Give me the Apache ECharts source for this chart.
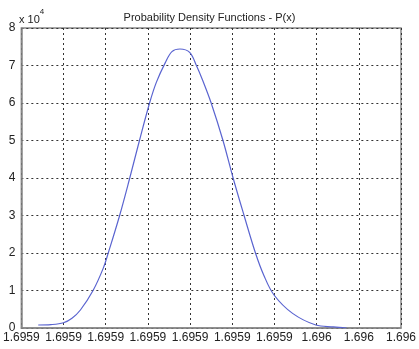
<!DOCTYPE html>
<html>
<head>
<meta charset="utf-8">
<style>
  html, body { margin: 0; padding: 0; background: #fff; }
  #chart { width: 419px; height: 349px; }
</style>
<script src="https://cdn.jsdelivr.net/npm/echarts@6/dist/echarts.min.js"></script>
</head>
<body>
<div id="chart"></div>
<script>
// tick labels on the x axis (values are printed rounded, so they repeat)
var xTickLabels = ['1.6959', '1.6959', '1.6959', '1.6959', '1.6959', '1.6959', '1.6959', '1.696', '1.696', '1.696']
// curve position, in x tick steps from the first tick
var xPos = [0.40, 0.7, 1.0, 1.2, 1.4, 1.7, 1.94, 2.06, 2.33, 2.57, 2.8, 3.04, 3.2, 3.41, 3.57, 3.76, 3.99, 4.15, 4.3, 4.5, 4.78, 5.02, 5.28, 5.55, 5.75, 5.99, 6.43, 6.98, 7.4, 7.71]
// density, in units of 10^4
var density = [0.08, 0.09, 0.14, 0.26, 0.48, 1.0, 1.59, 2.0, 3.0, 4.0, 5.0, 6.0, 6.55, 7.07, 7.37, 7.44, 7.35, 7.0, 6.6, 6.0, 5.0, 4.0, 3.0, 2.0, 1.4, 0.88, 0.39, 0.08, 0.03, 0.0]

var font = 'Liberation Sans, Arial, sans-serif'
var chart = echarts.init(document.getElementById('chart'))

chart.setOption({
  animation: false,
  title: {
    text: 'Probability Density Functions - P(x)',
    left: 'center',
    top: 7,
    textStyle: { fontFamily: font, fontSize: 11, fontWeight: 'normal', color: '#222' }
  },
  graphic: [{
    type: 'text',
    left: 19,
    top: 8,
    style: {
      text: '{a|x 10}{b|4}',
      rich: {
        a: { fontFamily: font, fontSize: 11, fill: '#222', padding: [6, 0, 0, 0] },
        b: { fontFamily: font, fontSize: 8, fill: '#222', verticalAlign: 'top' }
      }
    }
  }],
  grid: {
    left: 20,
    right: 12,
    top: 28,
    bottom: 21,
    show: true,
    borderColor: '#888',
    borderWidth: 1.5,
    backgroundColor: '#fff'
  },
  xAxis: {
    type: 'value',
    min: 0,
    max: 9,
    interval: 1,
    axisLine: { show: true, lineStyle: { color: '#888', width: 1.5 } },
    axisTick: { show: false },
    axisLabel: {
      color: '#222',
      fontFamily: font,
      fontSize: 12,
      margin: 4,
      showMinLabel: true,
      showMaxLabel: true,
      formatter: function (v) { return xTickLabels[Math.round(v)] }
    },
    splitLine: { show: true, lineStyle: { color: '#333', type: [2, 3], width: 1 } }
  },
  yAxis: {
    type: 'value',
    min: 0,
    max: 8,
    interval: 1,
    axisLine: { show: true, lineStyle: { color: '#888', width: 1.5 } },
    axisTick: { show: false },
    axisLabel: { color: '#222', fontFamily: font, fontSize: 12, margin: 6 },
    splitLine: { show: true, lineStyle: { color: '#333', type: [2, 3], width: 1 } }
  },
  series: [{
    type: 'line',
    data: xPos.map(function (x, i) { return [x, density[i]] }),
    smooth: 0.35,
    showSymbol: false,
    lineStyle: { color: '#5a64d0', width: 1.2 }
  }]
})
</script>
</body>
</html>
